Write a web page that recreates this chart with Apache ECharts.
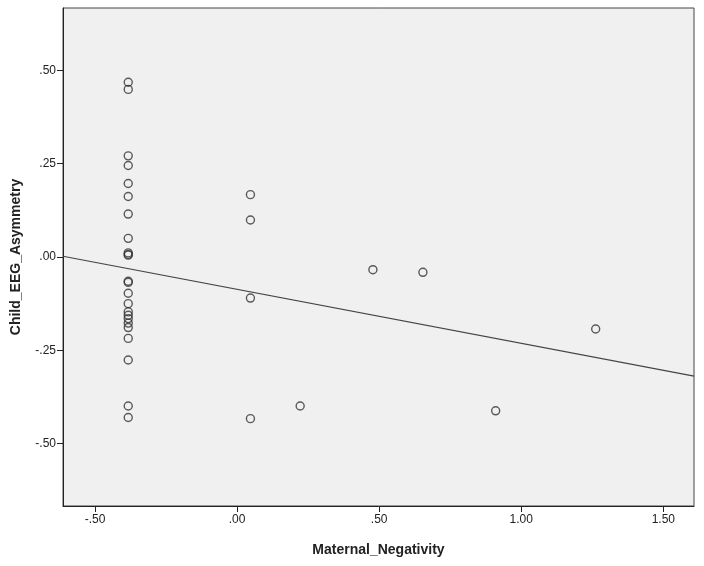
<!DOCTYPE html>
<html>
<head>
<meta charset="utf-8">
<script src="https://cdn.jsdelivr.net/npm/echarts@6/dist/echarts.min.js"></script>
<style>
html,body{margin:0;padding:0;background:#fff;}
#chart{width:704px;height:566px;}
</style>
</head>
<body>
<div id="chart"></div>
<script>
// Maternal_Negativity (x) and Child_EEG_Asymmetry (y)
var matNeg = [
	-0.383,-0.383,-0.383,-0.383,-0.383,-0.383,-0.383,-0.383,-0.383,-0.383,
	-0.383,-0.383,-0.383,-0.383,-0.383,-0.383,-0.383,-0.383,-0.383,-0.383,
	-0.383,-0.383,-0.383,-0.383,
	0.047,0.047,0.047,0.047,0.222,0.478,0.654,0.910,1.262
];
var childEEG = [
	0.468,0.449,0.271,0.245,0.197,0.162,0.115,0.050,0.011,0.005,
	-0.065,-0.068,-0.097,-0.125,-0.147,-0.156,-0.165,-0.177,-0.189,-0.218,
	-0.276,-0.399,-0.430,0.007,
	0.167,0.099,-0.110,-0.433,-0.399,-0.034,-0.041,-0.412,-0.193
];
// fit line, read at both plot edges
var fitX = [-0.6126, 1.608];
var fitY = [0.002, -0.319];
var xTicks = [-0.5, 0, 0.5, 1.0, 1.5];
var yTicks = [-0.5, -0.25, 0, 0.25, 0.5];

function fmt(v){
	return v.toFixed(2).replace(/^(-?)0\./, '$1.');
}

var pts = [];
for (var i = 0; i < matNeg.length; i++) pts.push([matNeg[i], childEEG[i]]);
var linePts = [[fitX[0], fitY[0]], [fitX[1], fitY[1]]];

var chart = echarts.init(document.getElementById('chart'));
var font = '"Liberation Sans", Arial, sans-serif';
chart.setOption({
	animation: false,
	grid: {
		left: 63, top: 8, right: 10, bottom: 60,
		show: true, backgroundColor: '#f0f0f0', borderColor: '#444', borderWidth: 1
	},
	xAxis: {
		type: 'value', min: -0.6126, max: 1.608,
		name: 'Maternal_Negativity', nameLocation: 'middle', nameGap: 37,
		nameTextStyle: {fontFamily: font, fontWeight: 'bold', fontSize: 14, color: '#222'},
		splitLine: {show: false},
		axisLine: {onZero: false, lineStyle: {color: '#222'}},
		axisTick: {customValues: xTicks, length: 6, lineStyle: {color: '#222'}},
		axisLabel: {customValues: xTicks, formatter: fmt, margin: 8,
			fontFamily: font, fontSize: 12, color: '#222'}
	},
	yAxis: {
		type: 'value', min: -0.667, max: 0.667,
		name: 'Child_EEG_Asymmetry', nameLocation: 'middle', nameGap: 40,
		nameTextStyle: {fontFamily: font, fontWeight: 'bold', fontSize: 14, color: '#222'},
		splitLine: {show: false},
		axisLine: {onZero: false, lineStyle: {color: '#222'}},
		axisTick: {customValues: yTicks, length: 6, lineStyle: {color: '#222'}},
		axisLabel: {customValues: yTicks, formatter: fmt, margin: 7,
			fontFamily: font, fontSize: 12, color: '#222'}
	},
	series: [{
		type: 'line',
		data: linePts,
		symbol: 'none',
		lineStyle: {color: '#444', width: 1.2},
		z: 1
	}, {
		type: 'scatter',
		data: pts,
		symbol: 'circle',
		symbolSize: 8,
		itemStyle: {color: 'rgba(0,0,0,0)', borderColor: '#333', borderWidth: 1.4},
		z: 2
	}]
});
</script>
</body>
</html>
